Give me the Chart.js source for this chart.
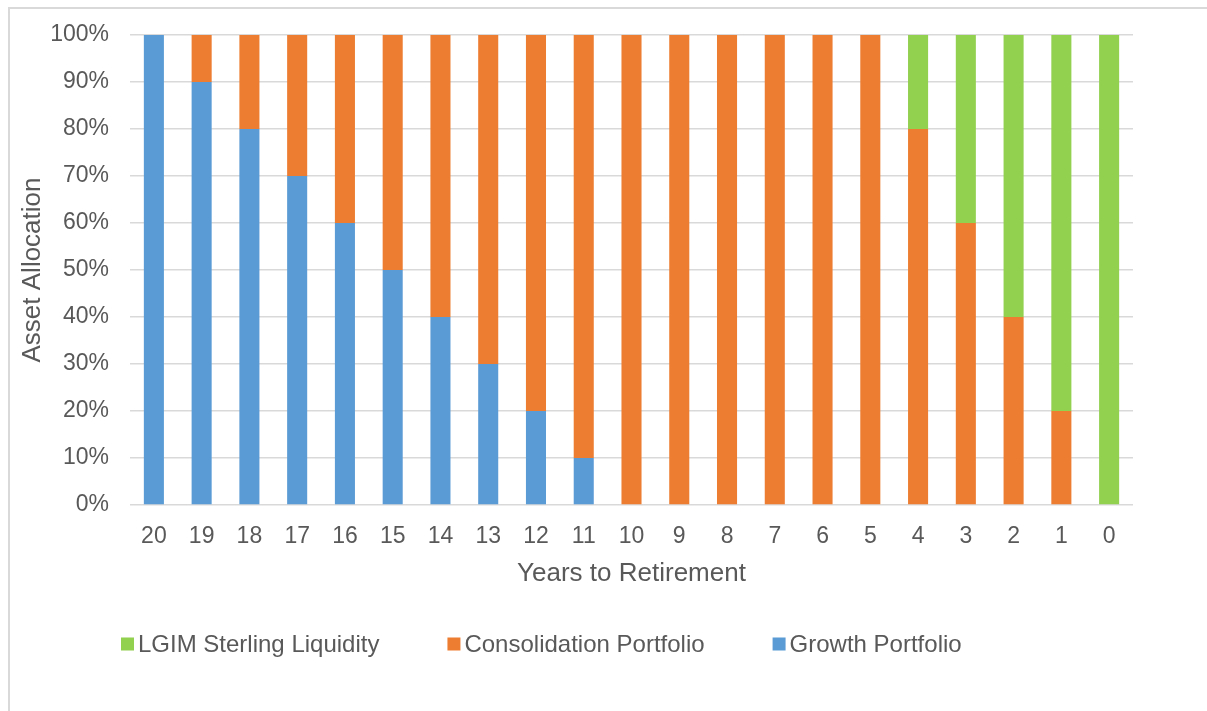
<!DOCTYPE html>
<html>
<head>
<meta charset="utf-8">
<script src="https://cdn.jsdelivr.net/npm/chart.js@4/dist/chart.umd.min.js"></script>
<style>
  html, body { margin: 0; padding: 0; background: #ffffff; }
  #wrap { position: relative; width: 1207px; height: 711px; }
</style>
</head>
<body>
<div id="wrap"><canvas id="c" width="1207" height="711"></canvas></div>
<script>
const categories = ['20','19','18','17','16','15','14','13','12','11','10','9','8','7','6','5','4','3','2','1','0'];
const growthPortfolio        = [100, 90, 80, 70, 60, 50, 40, 30, 20, 10, 0, 0, 0, 0, 0, 0, 0, 0, 0, 0, 0];
const consolidationPortfolio = [0, 10, 20, 30, 40, 50, 60, 70, 80, 90, 100, 100, 100, 100, 100, 100, 80, 60, 40, 20, 0];
const lgimSterlingLiquidity  = [0, 0, 0, 0, 0, 0, 0, 0, 0, 0, 0, 0, 0, 0, 0, 0, 20, 40, 60, 80, 100];
const yTicks = [0, 10, 20, 30, 40, 50, 60, 70, 80, 90, 100];

const TEXT = '#595959';
const FONT = '"Liberation Sans", Arial, sans-serif';

const frame = {
  id: 'frame',
  beforeDraw(chart) {
    const ctx = chart.ctx;
    ctx.save();
    ctx.fillStyle = '#ffffff';
    ctx.fillRect(0, 0, chart.width, chart.height);
    ctx.strokeStyle = '#d9d9d9';
    ctx.lineWidth = 2;
    ctx.strokeRect(9, 8, 1400, 900);
    ctx.restore();
  }
};

const customLegend = {
  id: 'customLegend',
  afterDraw(chart) {
    const ctx = chart.ctx;
    ctx.save();
    ctx.font = '24px ' + FONT;
    ctx.textBaseline = 'middle';
    let x = 121;
    const yc = 644;
    const ds = chart.data.datasets.slice().reverse();
    ds.forEach(d => {
      ctx.fillStyle = d.backgroundColor;
      ctx.fillRect(x, yc - 6.5, 13, 13);
      ctx.fillStyle = TEXT;
      ctx.fillText(d.label, x + 17, yc + 1);
      x += 17 + ctx.measureText(d.label).width + 68;
    });
    ctx.restore();
  }
};

new Chart(document.getElementById('c'), {
  type: 'bar',
  data: {
    labels: categories,
    datasets: [
      { label: 'Growth Portfolio', data: growthPortfolio, backgroundColor: '#5b9bd5' },
      { label: 'Consolidation Portfolio', data: consolidationPortfolio, backgroundColor: '#ed7d31' },
      { label: 'LGIM Sterling Liquidity', data: lgimSterlingLiquidity, backgroundColor: '#92d050' }
    ]
  },
  options: {
    responsive: false,
    animation: false,
    events: [],
    layout: { padding: { top: 35, left: 17, right: 74, bottom: 122 } },
    datasets: { bar: { barPercentage: 0.42, categoryPercentage: 1.0, borderWidth: 0 } },
    plugins: { legend: { display: false }, tooltip: { enabled: false } },
    scales: {
      x: {
        stacked: true,
        grid: { display: false, drawTicks: false },
        border: { display: false },
        ticks: { color: TEXT, font: { family: FONT, size: 23 }, padding: 18, maxRotation: 0, autoSkip: false },
        title: { display: true, text: 'Years to Retirement', color: TEXT, font: { family: FONT, size: 26 }, padding: 0 },
        afterFit(s) { s.height = 84; }
      },
      y: {
        stacked: true,
        min: 0, max: 100,
        afterBuildTicks(s) { s.ticks = yTicks.map(v => ({ value: v })); },
        grid: { color: '#d9d9d9', lineWidth: 1.5, drawTicks: false },
        border: { display: false },
        ticks: { color: TEXT, font: { family: FONT, size: 23 }, padding: 21, callback: v => v + '%' },
        title: { display: true, text: 'Asset Allocation', color: TEXT, font: { family: FONT, size: 26 }, padding: 0 },
        afterFit(s) { s.width = 113; }
      }
    }
  },
  plugins: [frame, customLegend]
});
</script>
</body>
</html>
